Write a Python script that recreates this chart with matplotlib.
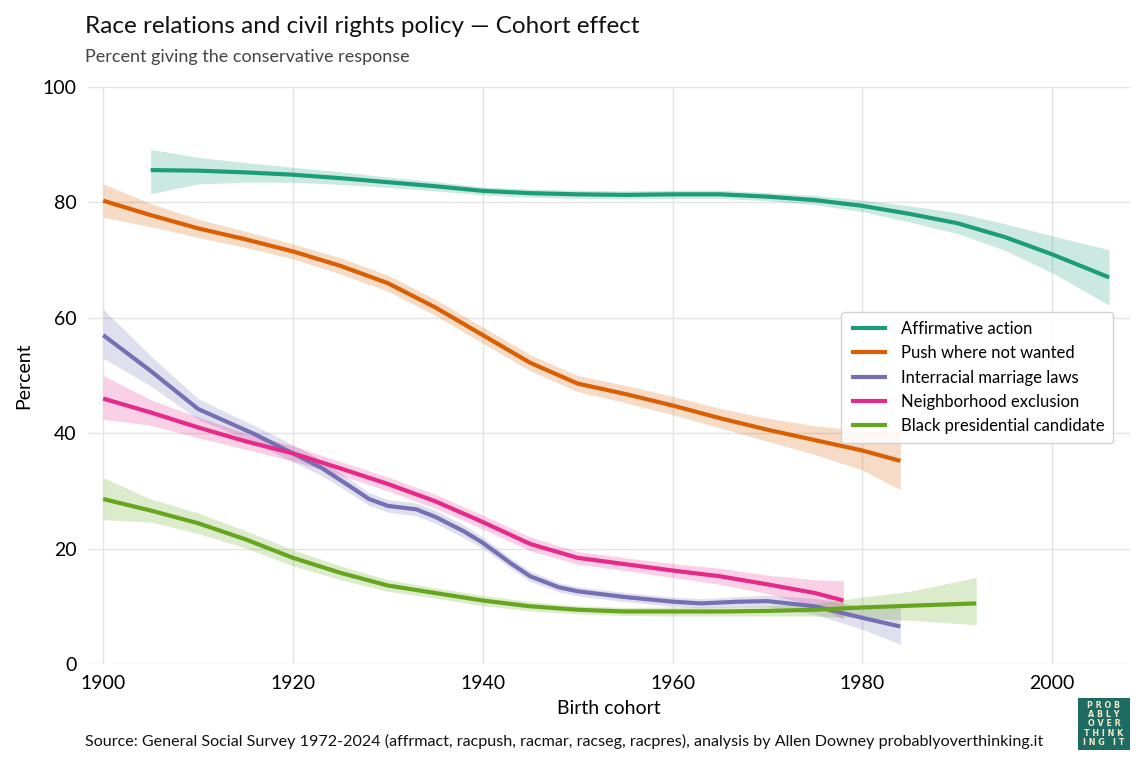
import matplotlib
matplotlib.use("Agg")
from matplotlib import pyplot as plt
import numpy as np

plt.rcParams['font.family'] = ['Lato', 'DejaVu Sans']

# --- data (percent conservative response) ---
aff_years = [1905, 1910, 1915, 1920, 1925, 1930, 1935, 1940, 1945, 1950, 1955, 1960, 1965, 1970, 1975, 1980, 1985, 1990, 1995, 2000, 2006]
aff_vals = [85.6, 85.5, 85.2, 84.8, 84.2, 83.5, 82.8, 82.0, 81.6, 81.4, 81.3, 81.4, 81.4, 81.0, 80.4, 79.4, 78.0, 76.4, 74.0, 71.0, 67.0]
aff_lo = [81.5, 83.2, 83.5, 83.5, 83.1, 82.6, 82.0, 81.3, 80.9, 80.7, 80.6, 80.7, 80.7, 80.3, 79.6, 78.4, 76.6, 74.6, 71.7, 67.8, 62.2]
aff_hi = [89.2, 87.8, 86.9, 86.1, 85.3, 84.4, 83.6, 82.7, 82.3, 82.1, 82.0, 82.1, 82.1, 81.7, 81.2, 80.4, 79.4, 78.2, 76.3, 74.2, 71.8]

push_years = [1900, 1905, 1910, 1915, 1920, 1925, 1930, 1935, 1940, 1945, 1950, 1955, 1960, 1965, 1970, 1975, 1980, 1984]
push_vals = [80.3, 77.8, 75.5, 73.6, 71.5, 69.0, 66.0, 61.8, 57.0, 52.2, 48.6, 46.8, 44.8, 42.6, 40.6, 38.8, 37.0, 35.2]
push_lo = [77.4, 75.8, 73.9, 72.2, 70.2, 67.6, 64.6, 60.4, 55.6, 50.8, 47.2, 45.3, 43.2, 40.9, 38.6, 36.3, 33.6, 30.2]
push_hi = [83.2, 79.8, 77.1, 75.0, 72.8, 70.4, 67.4, 63.2, 58.4, 53.6, 50.0, 48.3, 46.4, 44.3, 42.6, 41.3, 40.4, 40.2]

mar_years = [1900, 1905, 1910, 1913, 1916, 1920, 1923, 1926, 1928, 1930, 1933, 1935, 1938, 1940, 1943, 1945, 1948, 1950, 1955, 1960, 1963, 1967, 1970, 1975, 1980, 1984]
mar_vals = [57.0, 50.8, 44.2, 42.0, 39.8, 36.5, 34.0, 30.8, 28.6, 27.4, 26.8, 25.5, 23.0, 21.0, 17.4, 15.2, 13.3, 12.6, 11.6, 10.8, 10.5, 10.8, 10.9, 10.0, 8.0, 6.5]
mar_lo = [53.0, 48.2, 42.4, 40.4, 38.3, 35.0, 32.7, 29.6, 27.5, 26.3, 25.7, 24.4, 21.9, 20.0, 16.5, 14.3, 12.5, 11.8, 10.8, 10.0, 9.7, 9.9, 9.9, 8.6, 6.0, 3.4]
mar_hi = [61.5, 53.4, 46.0, 43.6, 41.3, 38.0, 35.3, 32.0, 29.7, 28.5, 27.9, 26.6, 24.1, 22.0, 18.3, 16.1, 14.1, 13.4, 12.4, 11.6, 11.3, 11.7, 11.9, 11.4, 10.0, 9.8]

nbr_years = [1900, 1905, 1910, 1915, 1920, 1925, 1930, 1935, 1940, 1945, 1950, 1955, 1960, 1965, 1970, 1975, 1978]
nbr_vals = [46.0, 43.6, 41.0, 38.6, 36.5, 33.9, 31.2, 28.2, 24.6, 20.8, 18.4, 17.3, 16.2, 15.2, 13.8, 12.3, 11.0]
nbr_lo = [42.4, 41.4, 39.2, 37.2, 35.2, 32.7, 30.0, 27.0, 23.4, 19.6, 17.3, 16.2, 15.0, 13.8, 12.2, 10.0, 7.8]
nbr_hi = [50.0, 45.8, 42.8, 40.0, 37.8, 35.1, 32.4, 29.4, 25.8, 22.0, 19.5, 18.4, 17.4, 16.6, 15.4, 14.6, 14.4]

blk_years = [1900, 1905, 1910, 1915, 1920, 1925, 1930, 1935, 1940, 1945, 1950, 1955, 1960, 1965, 1970, 1975, 1980, 1985, 1992]
blk_vals = [28.6, 26.6, 24.4, 21.6, 18.4, 15.8, 13.6, 12.3, 11.0, 10.0, 9.4, 9.1, 9.1, 9.1, 9.2, 9.4, 9.8, 10.1, 10.5]
blk_lo = [25.0, 24.6, 22.6, 20.1, 17.0, 14.6, 12.6, 11.4, 10.1, 9.2, 8.7, 8.4, 8.3, 8.3, 8.3, 8.3, 8.0, 7.6, 6.8]
blk_hi = [32.3, 28.6, 26.2, 23.1, 19.8, 17.0, 14.6, 13.2, 11.9, 10.8, 10.1, 9.8, 9.9, 9.9, 10.1, 10.5, 11.6, 12.6, 15.0]

labels = ['Affirmative action', 'Push where not wanted', 'Interracial marriage laws',
          'Neighborhood exclusion', 'Black presidential candidate']
colors = ['#1b9e77', '#d95f02', '#7570b3', '#e7298a', '#66a61e']

series = [
    (aff_years, aff_vals, aff_lo, aff_hi),
    (push_years, push_vals, push_lo, push_hi),
    (mar_years, mar_vals, mar_lo, mar_hi),
    (nbr_years, nbr_vals, nbr_lo, nbr_hi),
    (blk_years, blk_vals, blk_lo, blk_hi),
]

fig = plt.figure(figsize=(11.45, 7.66), dpi=100)
ax = fig.add_axes([88 / 1145, 1 - 664 / 766, (1130 - 88) / 1145, (664 - 87) / 766])

for (x, y, lo, hi), lab, c in zip(series, labels, colors):
    ax.fill_between(x, lo, hi, color=c, alpha=0.22, linewidth=0)
    ax.plot(x, y, color=c, linewidth=3, label=lab, solid_capstyle='butt', solid_joinstyle='round')

ax.set_xlim(1898.4, 2008.2)
ax.set_ylim(0, 100)
ax.set_xticks([1900, 1920, 1940, 1960, 1980, 2000])
ax.set_yticks([0, 20, 40, 60, 80, 100])
ax.grid(True, color='#e4e4e4', linewidth=1)
ax.set_axisbelow(True)
for s in ax.spines.values():
    s.set_visible(False)
ax.tick_params(length=0, labelsize=14, pad=8)
ax.set_xlabel('Birth cohort', fontsize=14, labelpad=6)
ax.set_ylabel('Percent', fontsize=14, labelpad=8)

leg = ax.legend(loc='upper right', bbox_to_anchor=(0.992, 0.625), fontsize=12,
                frameon=True, framealpha=0.85, edgecolor='#cccccc', handlelength=2.2,
                borderpad=0.55, labelspacing=0.5)

fig.text(85 / 1145, 1 - 33 / 766, 'Race relations and civil rights policy \u2014 Cohort effect',
         fontsize=17.5, va='baseline', ha='left', color='#111111')
fig.text(85 / 1145, 1 - 62 / 766, 'Percent giving the conservative response',
         fontsize=13, va='baseline', ha='left', color='#444444')
fig.text(85 / 1145, 1 - 746 / 766,
         'Source: General Social Survey 1972-2024 (affrmact, racpush, racmar, racseg, racpres), '
         'analysis by Allen Downey probablyoverthinking.it',
         fontsize=11.6, va='baseline', ha='left', color='#111111')

# logo
lax = fig.add_axes([1078 / 1145, 1 - 750 / 766, 52 / 1145, 52 / 766])
lax.set_facecolor('#1d6b63')
lax.set_xticks([])
lax.set_yticks([])
for s in lax.spines.values():
    s.set_visible(False)
for i, row in enumerate(['PROB', 'ABLY', 'OVER', 'THINK', 'ING IT']):
    lax.text(0.5, 0.85 - i * 0.175, ' '.join(row), fontsize=5.8, fontweight='heavy',
             color='#f3e9c6', ha='center', va='center', transform=lax.transAxes,
             family=['DejaVu Sans'])

fig.savefig('out.png', dpi=100)
